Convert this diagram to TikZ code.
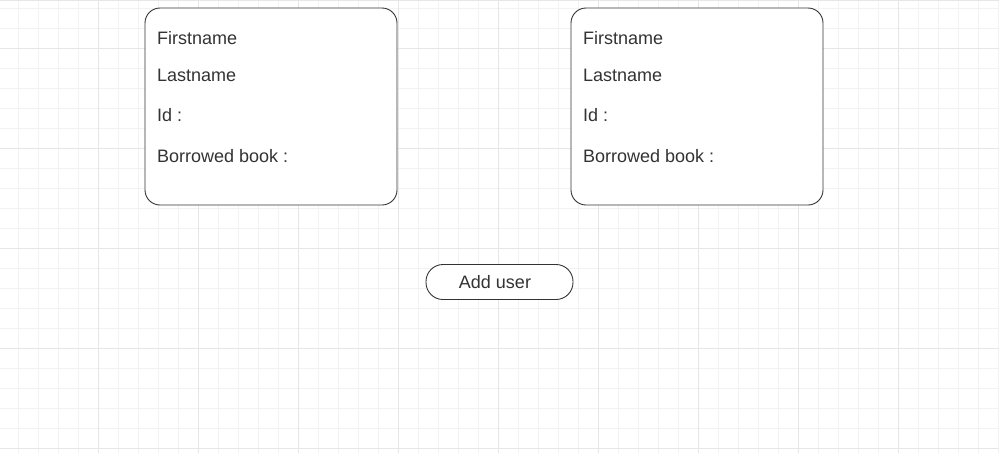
\documentclass[tikz,border=0pt]{standalone}
\usepackage{fontspec}
\setmainfont{Liberation Sans}
\definecolor{gridminor}{HTML}{F2F2F2}
\definecolor{gridmajor}{HTML}{E6E6E6}
\definecolor{ink}{HTML}{333333}
\begin{document}
\begin{tikzpicture}[x=1pt, y=-1pt,
        card/.style={draw=ink, line width=0.9pt, fill=white, rounded corners=15pt},
        field/.style={anchor=west, inner sep=0pt, text=ink, font=\fontsize{18}{21}\selectfont},
        btn/.style={draw=ink, line width=0.9pt, fill=white, rounded corners=17pt, minimum width=147pt, minimum height=35pt, inner sep=0pt}]
        \useasboundingbox (0, 0) rectangle (999, 453);
        \fill[white] (0, 0) rectangle (999, 453);
        \foreach \x in {18, 38, ..., 998}
            \draw[gridminor, line width=1pt] (\x, 0) -- (\x, 453);
        \foreach \y in {8, 28, ..., 448}
            \draw[gridminor, line width=1pt] (0, \y) -- (999, \y);
        \foreach \x in {98, 198, ..., 898}
            \draw[gridmajor, line width=1pt] (\x, 0) -- (\x, 453);
        \foreach \y in {48, 148, ..., 448}
            \draw[gridmajor, line width=1pt] (0, \y) -- (999, \y);
        \draw[gridmajor, line width=2pt] (0, 0) -- (999, 0);
        \draw[card] (145, 8) rectangle (397, 205);
        \draw[card] (571, 8) rectangle (823, 205);
        \node[field] (f1) at (157, 38) {Firstname};
        \node[field] (l1) at (157, 75) {Lastname};
        \node[field] (i1) at (157, 115) {Id :};
        \node[field] (b1) at (157, 156) {Borrowed book :};
        \node[field] (f2) at (583, 38) {Firstname};
        \node[field] (l2) at (583, 75) {Lastname};
        \node[field] (i2) at (583, 115) {Id :};
        \node[field] (b2) at (583, 156) {Borrowed book :};
        \node[btn] (add) at (499.5, 282) {};
        \node[field, anchor=center] (addtext) at (495, 282) {Add user};
    \end{tikzpicture}
\end{document}
